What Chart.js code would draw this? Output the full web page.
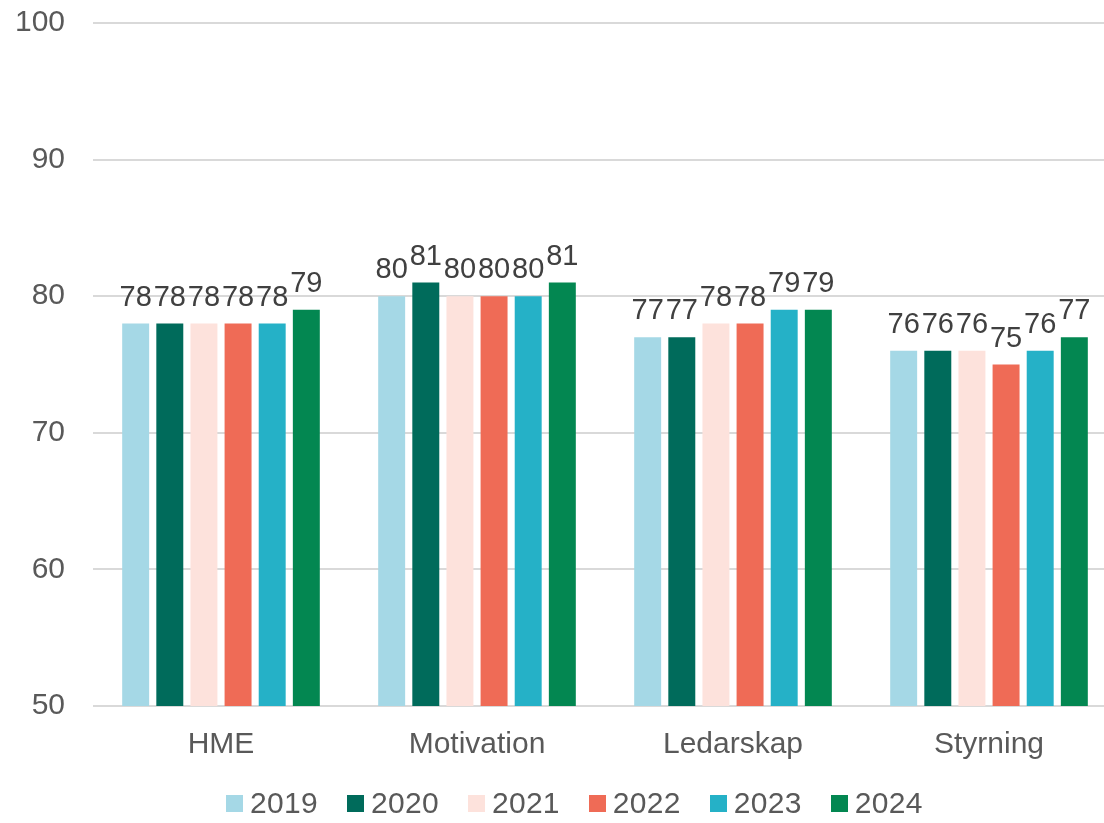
<!DOCTYPE html>
<html><head><meta charset="utf-8">
<script src="https://cdn.jsdelivr.net/npm/chart.js@4"></script>
<style>
html,body{margin:0;padding:0;background:#fff;overflow:hidden}
#w{position:relative;width:1104px;height:823px;overflow:hidden}
#inner{position:absolute;left:0;top:0;width:1117px;height:823px}
#legend{position:absolute;left:226px;top:786px;display:flex;align-items:center;font-family:'Liberation Sans',Arial,sans-serif;font-size:30px;color:#595959;line-height:34px;white-space:nowrap;letter-spacing:0.3px}
#legend .it{display:flex;align-items:center;margin-right:29px}
#legend .it:last-child{margin-right:0}
#legend .bx{width:17px;height:17px;margin-right:7px}
</style>
</head><body><div id="w"><div id="inner"><canvas id="c"></canvas></div><div id="legend"></div></div>
<script>
const categories = ["HME", "Motivation", "Ledarskap", "Styrning"];
const years = ["2019", "2020", "2021", "2022", "2023", "2024"];
const v2019 = [78, 80, 77, 76];
const v2020 = [78, 81, 77, 76];
const v2021 = [78, 80, 78, 76];
const v2022 = [78, 80, 78, 75];
const v2023 = [78, 80, 79, 76];
const v2024 = [79, 81, 79, 77];
const colors = ["#A5D8E6", "#006B5B", "#FDE2DC", "#EF6B56", "#25B1C7", "#038751"];
const series = [v2019, v2020, v2021, v2022, v2023, v2024];
const yTicks = [50, 60, 70, 80, 90, 100];

const FONT = "'Liberation Sans', Arial, sans-serif";

const labelPlugin = {
  id: 'vals',
  afterDatasetsDraw(chart) {
    const ctx = chart.ctx;
    ctx.save();
    ctx.font = "29px " + FONT;
    ctx.fillStyle = "#404040";
    ctx.textAlign = "center";
    ctx.textBaseline = "alphabetic";
    chart.data.datasets.forEach((ds, i) => {
      chart.getDatasetMeta(i).data.forEach((bar, j) => {
        ctx.fillText(String(ds.data[j]), bar.x, bar.y - 18);
      });
    });
    ctx.restore();
  }
};

const chart = new Chart(document.getElementById('c'), {
  type: 'bar',
  data: {
    labels: categories,
    datasets: years.map((y, i) => ({
      label: y, data: series[i], backgroundColor: colors[i],
      barPercentage: 0.79, categoryPercentage: 0.80
    }))
  },
  options: {
    responsive: true, maintainAspectRatio: false, animation: false,
    layout: { padding: { top: 0, right: 0, left: 13, bottom: 61 } },
    plugins: {
      tooltip: { enabled: false },
      legend: { display: false }
    },
    scales: {
      x: {
        grid: { display: false },
        border: { display: false },
        ticks: { font: { size: 30, family: FONT }, color: '#595959', padding: 13 },
        afterFit: (ax) => { ax.height = 56; }
      },
      y: {
        min: 50, max: 100,
        afterBuildTicks: (ax) => { ax.ticks = yTicks.map(v => ({ value: v })); },
        grid: { color: '#D9D9D9', lineWidth: 2, drawTicks: false },
        border: { display: false },
        ticks: { font: { size: 30, family: FONT }, color: '#595959', padding: 28 },
        afterFit: (ax) => { ax.width = 80; ax.paddingTop = 23; ax.paddingBottom = 18; }
      }
    }
  },
  plugins: [labelPlugin]
});

const lg = document.getElementById('legend');
years.forEach((y, i) => {
  const it = document.createElement('div'); it.className = 'it';
  const bx = document.createElement('div'); bx.className = 'bx'; bx.style.background = colors[i];
  const tx = document.createElement('span'); tx.textContent = y;
  it.appendChild(bx); it.appendChild(tx); lg.appendChild(it);
});
</script></body></html>
